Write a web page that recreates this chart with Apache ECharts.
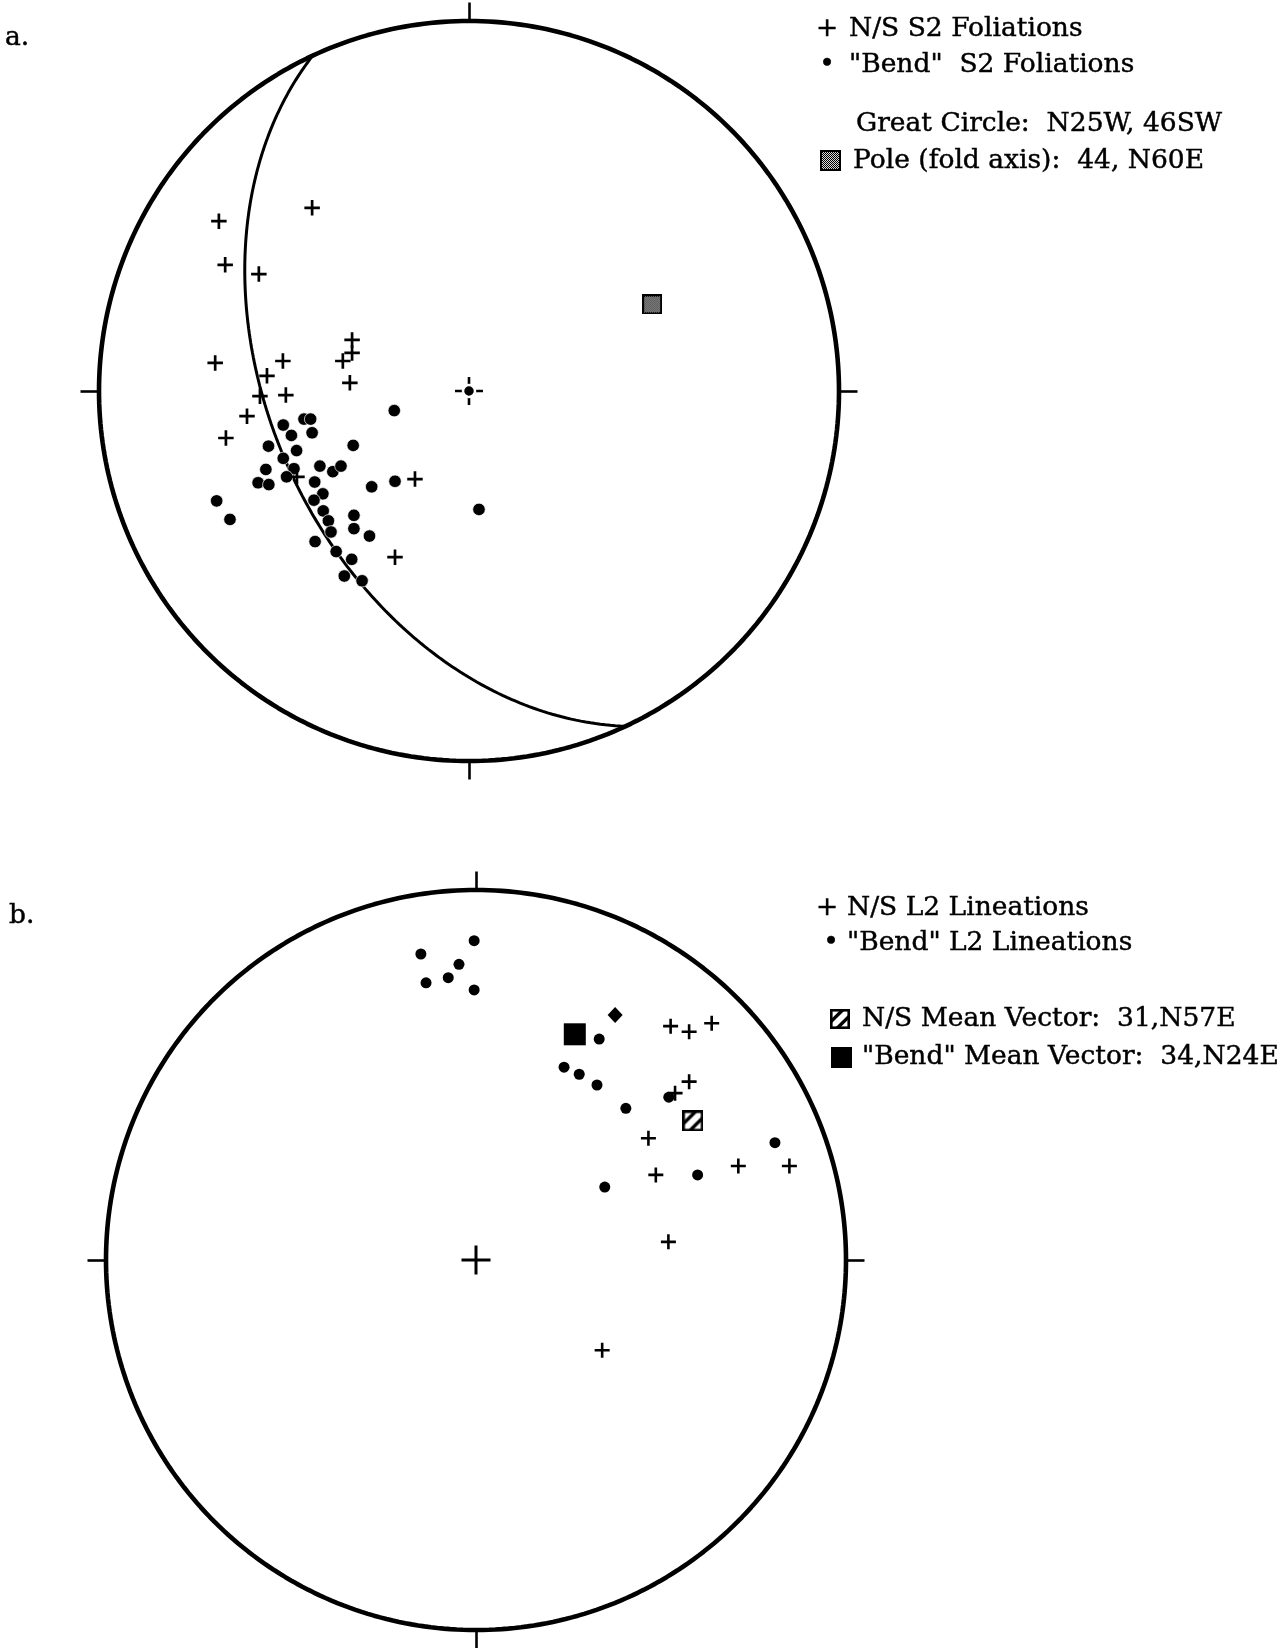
<!DOCTYPE html>
<html><head><meta charset="utf-8">
<script src="https://cdn.jsdelivr.net/npm/echarts@6/dist/echarts.min.js"></script>
<style>html,body{margin:0;padding:0;background:#fff}#c{width:1281px;height:1648px}</style>
</head><body><div id="c"></div>
<script>
// ---------- DATA (equal-area lower-hemisphere net; x = east, y = north; primitive radius = 1) ----------
// Panel a: S2 foliation poles
const aCrosses = [
  [-0.676, 0.459], [-0.424, 0.495], [-0.659, 0.341], [-0.568, 0.316], [-0.686, 0.076],
  [-0.503, 0.081], [-0.316, 0.138], [-0.316, 0.103], [-0.341, 0.081], [-0.322, 0.022],
  [-0.546, 0.041], [-0.565, -0.014], [-0.495, -0.011], [-0.600, -0.068], [-0.657, -0.127],
  [-0.465, -0.232], [-0.146, -0.238], [-0.200, -0.449]
];
const aDots = [
  [-0.202, -0.053], [-0.446, -0.076], [-0.428, -0.076], [-0.502, -0.092], [-0.480, -0.120],
  [-0.424, -0.113], [-0.542, -0.149], [-0.466, -0.161], [-0.313, -0.147], [-0.502, -0.182],
  [-0.473, -0.210], [-0.549, -0.212], [-0.403, -0.203], [-0.368, -0.218], [-0.346, -0.203],
  [-0.493, -0.232], [-0.570, -0.248], [-0.541, -0.253], [-0.417, -0.246], [-0.263, -0.259],
  [-0.200, -0.244], [-0.682, -0.297], [-0.646, -0.347], [-0.395, -0.278], [-0.419, -0.295],
  [-0.394, -0.324], [-0.311, -0.336], [-0.380, -0.351], [-0.311, -0.372], [-0.373, -0.381],
  [-0.269, -0.392], [-0.416, -0.407], [-0.359, -0.434], [-0.317, -0.455], [-0.337, -0.500],
  [-0.289, -0.513], [0.027, -0.320]
];
const aPole = [[0.495, 0.234]];
const aPlane = { strike: 155, dip: 46 };   // N25W, 46SW (right-hand rule strike)

// Panel b: L2 lineations
const bCrosses = [
  [0.526, 0.632], [0.576, 0.617], [0.637, 0.640], [0.576, 0.482], [0.538, 0.451],
  [0.466, 0.329], [0.486, 0.230], [0.709, 0.254], [0.847, 0.254], [0.520, 0.049],
  [0.341, -0.244]
];
const bDots = [
  [-0.005, 0.863], [-0.149, 0.827], [-0.046, 0.799], [-0.135, 0.749], [-0.075, 0.763],
  [-0.005, 0.730], [0.333, 0.597], [0.238, 0.521], [0.279, 0.502], [0.327, 0.473],
  [0.405, 0.410], [0.521, 0.440], [0.808, 0.317], [0.599, 0.230], [0.348, 0.197]
];
const bDiamond = [[0.376, 0.662]];
const bNSMean = [[0.586, 0.376]];
const bBendMean = [[0.267, 0.610]];

const panelLabels = ['a.', 'b.'];
const legendA = ['N/S S2 Foliations', '"Bend"  S2 Foliations', 'Great Circle:  N25W, 46SW', 'Pole (fold axis):  44, N60E'];
const legendB = ['N/S L2 Lineations', '"Bend" L2 Lineations', 'N/S Mean Vector:  31,N57E', '"Bend" Mean Vector:  34,N24E'];

// ---------- helpers ----------
const D = Math.PI / 180;
function eqArea(trend, plunge) {
  const r = Math.SQRT2 * Math.sin((90 - plunge) * D / 2);
  return [r * Math.sin(trend * D), r * Math.cos(trend * D)];
}
function greatCircle(strike, dip) {
  const dd = strike + 90;
  const s = [Math.cos(strike * D), Math.sin(strike * D), 0];
  const d = [Math.cos(dip * D) * Math.cos(dd * D), Math.cos(dip * D) * Math.sin(dd * D), Math.sin(dip * D)];
  const pts = [];
  for (let t = 0; t <= 180; t += 1) {
    const c = Math.cos(t * D), sn = Math.sin(t * D);
    const v = [c * s[0] + sn * d[0], c * s[1] + sn * d[1], c * s[2] + sn * d[2]];
    const pl = Math.asin(Math.max(-1, Math.min(1, v[2]))) / D;
    const tr = Math.atan2(v[1], v[0]) / D;
    pts.push(eqArea(tr, pl));
  }
  return pts;
}
function primitive() {
  const p = [];
  for (let a = 0; a <= 360; a += 1) p.push([Math.sin(a * D), Math.cos(a * D)]);
  return p;
}
const tickSegs = [[[0, 1], [0, 1.05]], [[0, -1], [0, -1.05]], [[1, 0], [1.05, 0]], [[-1, 0], [-1.05, 0]]];

function makeCanvas(w, h, draw) {
  const c = document.createElement('canvas'); c.width = w; c.height = h;
  draw(c.getContext('2d'), w, h); return c;
}
function stippleSquare(S) {
  return makeCanvas(S, S, (ctx, w, h) => {
    ctx.fillStyle = '#d8d8d8'; ctx.fillRect(0, 0, w, h);
    ctx.fillStyle = '#000';
    for (let y = 0; y < h; y++) for (let x = 0; x < w; x++) if ((x + y) % 2 === 0) ctx.fillRect(x, y, 1, 1);
    ctx.strokeStyle = '#000'; ctx.lineWidth = 2; ctx.strokeRect(1, 1, w - 2, h - 2);
  });
}
function hatchSquare(S) {
  return makeCanvas(S, S, (ctx, w, h) => {
    ctx.fillStyle = '#fff'; ctx.fillRect(0, 0, w, h);
    ctx.save(); ctx.beginPath(); ctx.rect(0, 0, w, h); ctx.clip();
    ctx.strokeStyle = '#000'; ctx.lineWidth = 3.4; ctx.beginPath();
    ctx.moveTo(0, 0.68 * w); ctx.lineTo(0.68 * w, 0);
    ctx.moveTo(0.32 * w, h); ctx.lineTo(w, 0.32 * h);
    ctx.stroke(); ctx.restore();
    ctx.strokeStyle = '#000'; ctx.lineWidth = 2.6; ctx.strokeRect(1.3, 1.3, w - 2.6, h - 2.6);
  });
}
const poleImg = stippleSquare(20);
const hatchImg = hatchSquare(21);
const poleLegendImg = stippleSquare(21);
const hatchLegendImg = hatchSquare(20);

const plus15 = 'path://M6.2,0H8.8V6.2H15V8.8H8.8V15H6.2V8.8H0V6.2H6.2Z';
const plusBig = 'path://M13,0H16V13H29V16H16V29H13V16H0V13H13Z';
const plusCtr = 'path://M12.7,0H15.3V12.7H28V15.3H15.3V28H12.7V15.3H0V12.7H12.7Z';

const FONT = '26.5px "DejaVu Serif", "Liberation Serif", serif';

// ---------- chart ----------
const chart = echarts.init(document.getElementById('c'), null, { renderer: 'canvas' });
const R = 370;
const centers = [[469, 391], [476, 1260]];
const grids = centers.map(c => ({ left: c[0] - R, top: c[1] - R, width: 2 * R, height: 2 * R, containLabel: false }));
const axis = i => ({ gridIndex: i, type: 'value', min: -1, max: 1, show: false });

function frameSeries(i) {
  return [
    { type: 'line', xAxisIndex: i, yAxisIndex: i, data: primitive(), showSymbol: false, symbol: 'none', clip: false,
      lineStyle: { color: '#000', width: 4.6 }, z: 1, silent: true },
    { type: 'lines', coordinateSystem: 'cartesian2d', xAxisIndex: i, yAxisIndex: i, clip: false,
      data: tickSegs.map(s => ({ coords: s })), lineStyle: { color: '#000', width: 2.6, opacity: 1 }, z: 1, silent: true }
  ];
}
function scatter(i, data, symbol, size, style, z) {
  return { type: 'scatter', xAxisIndex: i, yAxisIndex: i, data, symbol, symbolSize: size, clip: false,
    itemStyle: Object.assign({ color: '#000', opacity: 1 }, style || {}), z: z || 3, silent: true };
}

const series = [
  ...frameSeries(0),
  { type: 'line', xAxisIndex: 0, yAxisIndex: 0, data: greatCircle(aPlane.strike, aPlane.dip), showSymbol: false, symbol: 'none',
    clip: false, lineStyle: { color: '#000', width: 3 }, z: 2, silent: true },
  scatter(0, [[0, 0]], plusCtr, 28, {}, 3),
  scatter(0, [[0, 0]], 'circle', 12, { borderColor: '#fff', borderWidth: 2.5 }, 4),
  scatter(0, aDots, 'circle', 12.5, { borderColor: '#fff', borderWidth: 0.7 }, 3),
  scatter(0, aCrosses, plus15, 15.5, {}, 4),
  scatter(0, aPole, 'image://' + poleImg.toDataURL(), 20, {}, 5),

  ...frameSeries(1),
  scatter(1, [[0, 0]], plusBig, 29, {}, 3),
  scatter(1, bDots, 'circle', 11, {}, 3),
  scatter(1, bCrosses, plus15, 15, {}, 4),
  scatter(1, bDiamond, 'diamond', [15, 16], {}, 4),
  scatter(1, bBendMean, 'rect', 22, {}, 5),
  scatter(1, bNSMean, 'image://' + hatchImg.toDataURL(), 21, {}, 5)
];

function txt(text, x, y, extra) {
  return { type: 'text', x: 0, y: 0, silent: true, z: 10,
    style: Object.assign({ text, x, y, font: FONT, fill: '#000', stroke: '#000', lineWidth: 0.45,
      align: 'left', verticalAlign: 'middle', textAlign: 'left', textVerticalAlign: 'middle' }, extra || {}) };
}
const legendYa = [29, 65, 124, 161];
const legendYb = [908, 943, 1019, 1057];
const graphic = [
  txt(panelLabels[0], 5, 38),
  txt(panelLabels[1], 9, 916),
  txt('+', 827, legendYa[0], { align: 'center', textAlign: 'center' }),
  txt(legendA[0], 849, legendYa[0]),
  txt('•', 827, legendYa[1], { align: 'center', textAlign: 'center' }),
  txt(legendA[1], 849, legendYa[1]),
  txt(legendA[2], 856, legendYa[2]),
  { type: 'image', silent: true, z: 10, style: { image: poleLegendImg, x: 820, y: legendYa[3] - 11, width: 21, height: 21 } },
  txt(legendA[3], 853, legendYa[3]),

  txt('+', 827, legendYb[0], { align: 'center', textAlign: 'center' }),
  txt(legendB[0], 847, legendYb[0]),
  txt('•', 831, legendYb[1], { align: 'center', textAlign: 'center' }),
  txt(legendB[1], 847, legendYb[1]),
  { type: 'image', silent: true, z: 10, style: { image: hatchLegendImg, x: 830, y: legendYb[2] - 10, width: 20, height: 20 } },
  txt(legendB[2], 862, legendYb[2]),
  { type: 'rect', silent: true, z: 10, shape: { x: 831, y: legendYb[3] - 10, width: 21, height: 21 },
    style: { fill: '#000' } },
  txt(legendB[3], 862, legendYb[3])
];

chart.setOption({
  animation: false,
  backgroundColor: '#fff',
  grid: grids,
  xAxis: [axis(0), axis(1)],
  yAxis: [axis(0), axis(1)],
  series,
  graphic
});
</script></body></html>
